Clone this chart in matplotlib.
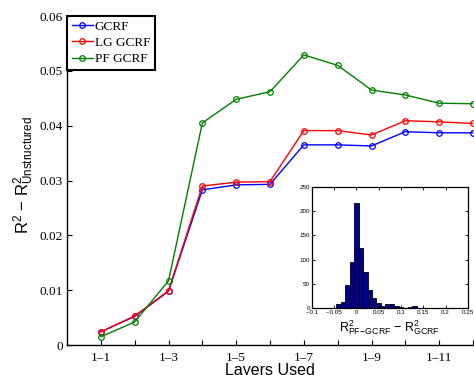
import matplotlib
matplotlib.use("Agg")
import matplotlib.pyplot as plt
import numpy as np

plt.rcParams['mathtext.fontset'] = 'custom'
plt.rcParams['mathtext.rm'] = 'Liberation Sans'
plt.rcParams['mathtext.it'] = 'Liberation Sans:italic'
plt.rcParams['mathtext.bf'] = 'Liberation Sans:bold'

# 数据
layers = np.arange(1, 13)
tick_pos = [1, 3, 5, 7, 9, 11]
tick_labels = ["1\u20131", "1\u20133", "1\u20135", "1\u20137", "1\u20139", "1\u201311"]

gcrf = [0.0024, 0.0052, 0.0098, 0.0283, 0.0292, 0.0293,
        0.0365, 0.0365, 0.0363, 0.0389, 0.0387, 0.0387]
lg_gcrf = [0.0024, 0.0053, 0.0099, 0.0290, 0.0297, 0.0298,
           0.0391, 0.0391, 0.0383, 0.0409, 0.0407, 0.0404]
pf_gcrf = [0.0015, 0.0042, 0.0117, 0.0405, 0.0448, 0.0462,
           0.0529, 0.0510, 0.0465, 0.0456, 0.0441, 0.0440]

# 直方图
bin_centers = [-0.05, -0.04, -0.03, -0.02, -0.01, 0.0, 0.01, 0.02, 0.03, 0.04,
               0.05, 0.06, 0.07, 0.08, 0.09, 0.10, 0.11, 0.12, 0.13, 0.14]
counts = [1, 9, 13, 48, 95, 217, 124, 75, 37, 21,
          11, 4, 9, 9, 4, 2, 1, 2, 4, 1]

serif = 'Liberation Serif'
sans = 'Liberation Sans'

fig = plt.figure(figsize=(4.74, 3.75), dpi=100)
ax = fig.add_axes([0.1414, 0.08, 0.8565, 0.8773])

ax.plot(layers, gcrf, color='#0000ff', marker='o', ms=4, mfc='none', lw=1, mew=0.9, label='GCRF')
ax.plot(layers, lg_gcrf, color='#ff0000', marker='o', ms=4, mfc='none', lw=1, mew=0.9, label='LG GCRF')
ax.plot(layers, pf_gcrf, color='#008000', marker='o', ms=4, mfc='none', lw=1, mew=0.9, label='PF GCRF')

ax.set_xlim(0, 12)
ax.set_ylim(0, 0.06)
ax.set_xticks(layers, minor=True)
ax.set_xticks(tick_pos)
ax.set_xticklabels(tick_labels, fontfamily=serif, fontsize=9.5)
ax.set_yticks([0, 0.01, 0.02, 0.03, 0.04, 0.05, 0.06])
ax.set_yticklabels(["0", "0.01", "0.02", "0.03", "0.04", "0.05", "0.06"],
                   fontfamily=serif, fontsize=9.5)
ax.tick_params(which='both', direction='in', length=3.5, width=0.8)
ax.tick_params(axis='x', pad=5)
ax.tick_params(axis='y', pad=3)
for s in ['top', 'right']:
    ax.spines[s].set_visible(False)
for s in ['left', 'bottom']:
    ax.spines[s].set_linewidth(1.0)

ax.set_xlabel("Layers Used", fontfamily=sans, fontsize=11.5)
ax.xaxis.set_label_coords(0.5, -0.056)
ax.set_ylabel(r"R$^2$ $-$ R$^2_{\mathrm{Unstructured}}$", fontfamily=sans, fontsize=12)
ax.yaxis.set_label_coords(-0.076, 0.517)

leg = ax.legend(loc='upper left', bbox_to_anchor=(0, 1), borderaxespad=0,
                prop={'family': serif, 'size': 9.5}, fancybox=False,
                handlelength=1.6, handletextpad=0.15, labelspacing=0.3,
                borderpad=0.35, framealpha=1)
leg.get_frame().set_edgecolor('black')
leg.get_frame().set_linewidth(1.5)

# 插图
ins = fig.add_axes([0.658, 0.1787, 0.329, 0.3227])
ins.bar(bin_centers, counts, width=0.01, color='#00008f', edgecolor='black', linewidth=0.6)
ins.set_xlim(-0.1, 0.25)
ins.set_ylim(0, 250)
ins.set_xticks([-0.1, -0.05, 0, 0.05, 0.1, 0.15, 0.2, 0.25])
ins.set_xticklabels(["\u20130.1", "\u20130.05", "0", "0.05", "0.1", "0.15", "0.2", "0.25"],
                    fontfamily=sans, fontsize=4.5)
ins.set_yticks([0, 50, 100, 150, 200, 250])
ins.set_yticklabels(["0", "50", "100", "150", "200", "250"], fontfamily=sans, fontsize=4.5)
ins.tick_params(direction='in', length=2, width=0.6, top=True, right=True, pad=1.5)
for s in ins.spines.values():
    s.set_linewidth(0.9)
ins.set_xlabel(r"R$^2_{\mathrm{PF\!-\!GCRF}}$ $-$ R$^2_{\mathrm{GCRF}}$", fontfamily=sans,
               fontsize=9, labelpad=2)

fig.savefig("out.png", dpi=100)
